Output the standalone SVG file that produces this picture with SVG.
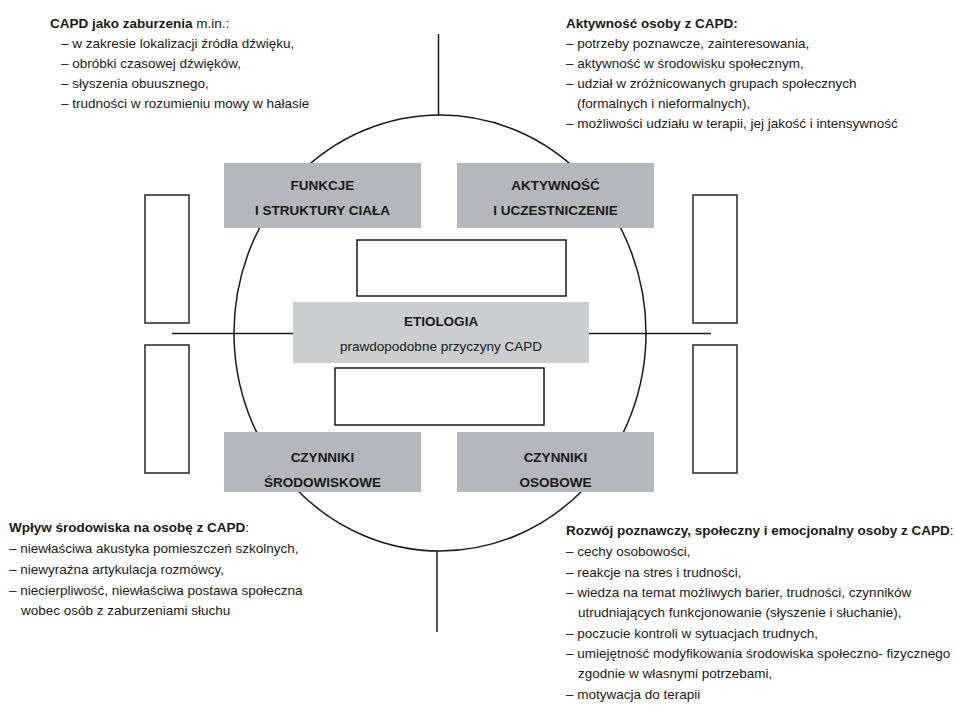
<svg xmlns="http://www.w3.org/2000/svg" width="957" height="707" viewBox="0 0 957 707">
<style>
.t{font-family:"Liberation Sans",Arial,sans-serif;font-size:13.5px;fill:#1a1a1a}
.b{font-weight:bold}
.c{text-anchor:middle}
.g1{fill:#b5b7bc}
.g2{fill:#cbcdd0}
.w{fill:#fff;stroke:#1a1a1a;stroke-width:1.5}
.s{fill:#fff;stroke:#333;stroke-width:1.6}
.ln{fill:none;stroke:#1a1a1a;stroke-width:1.5}
</style>
<rect width="957" height="707" fill="#fff"/>
<g id="connectors">
<ellipse class="ln" cx="440" cy="333" rx="206" ry="218"/>
<line class="ln" x1="438.5" y1="34" x2="438.5" y2="115"/>
<line class="ln" x1="437" y1="551" x2="437" y2="632"/>
<line class="ln" x1="172" y1="333.5" x2="711" y2="333.5"/>
</g>
<g id="funkcje">
<rect class="g1" x="224" y="163" width="197" height="65"/>
<text class="t b c" x="322.5" y="190">FUNKCJE</text>
<text class="t b c" x="322.5" y="215">I STRUKTURY CIAŁA</text>
</g>
<g id="aktywnosc">
<rect class="g1" x="457" y="163" width="197" height="65"/>
<text class="t b c" x="555.5" y="190">AKTYWNOŚĆ</text>
<text class="t b c" x="555.5" y="215">I UCZESTNICZENIE</text>
</g>
<g id="box-top">
<rect class="w" x="357" y="240" width="209" height="56"/>
</g>
<g id="etiologia">
<rect class="g2" x="293" y="302" width="296" height="61"/>
<text class="t b c" x="441" y="326">ETIOLOGIA</text>
<text class="t c" x="441" y="351">prawdopodobne przyczyny CAPD</text>
</g>
<g id="box-bottom">
<rect class="w" x="335" y="368" width="209" height="57"/>
</g>
<g id="srodowiskowe">
<rect class="g1" x="224" y="432" width="197" height="60"/>
<text class="t b c" x="322.5" y="462">CZYNNIKI</text>
<text class="t b c" x="322.5" y="486.5">ŚRODOWISKOWE</text>
</g>
<g id="osobowe">
<rect class="g1" x="457" y="432" width="197" height="60"/>
<text class="t b c" x="555.5" y="462">CZYNNIKI</text>
<text class="t b c" x="555.5" y="486.5">OSOBOWE</text>
</g>
<g id="side-left-top"><rect class="s" x="145" y="195" width="44" height="128"/></g>
<g id="side-left-bottom"><rect class="s" x="145" y="345" width="44" height="128"/></g>
<g id="side-right-top"><rect class="s" x="693" y="195" width="44" height="128"/></g>
<g id="side-right-bottom"><rect class="s" x="693" y="345" width="44" height="128"/></g>
<g id="text-top-left">
<text class="t" x="50" y="27.5"><tspan class="b">CAPD jako zaburzenia</tspan> m.in.:</text>
<text class="t" x="61" y="47.7">– w zakresie lokalizacji źródła dźwięku,</text>
<text class="t" x="61" y="67.9">– obróbki czasowej dźwięków,</text>
<text class="t" x="61" y="88.1">– słyszenia obuusznego,</text>
<text class="t" x="61" y="108.3">– trudności w rozumieniu mowy w hałasie</text>
</g>
<g id="text-top-right">
<text class="t b" x="566" y="28.3">Aktywność osoby z CAPD:</text>
<text class="t" x="566" y="48.3">– potrzeby poznawcze, zainteresowania,</text>
<text class="t" x="566" y="68.3">– aktywność w środowisku społecznym,</text>
<text class="t" x="566" y="88.3">– udział w zróżnicowanych grupach społecznych</text>
<text class="t" x="577" y="108.3">(formalnych i nieformalnych),</text>
<text class="t" x="566" y="128">– możliwości udziału w terapii, jej jakość i intensywność</text>
</g>
<g id="text-bottom-left">
<text class="t" x="9" y="532"><tspan class="b">Wpływ środowiska na osobę z CAPD</tspan>:</text>
<text class="t" x="9" y="553">– niewłaściwa akustyka pomieszczeń szkolnych,</text>
<text class="t" x="9" y="574">– niewyraźna artykulacja rozmówcy,</text>
<text class="t" x="9" y="594.5">– niecierpliwość, niewłaściwa postawa społeczna</text>
<text class="t" x="21" y="615">wobec osób z zaburzeniami słuchu</text>
</g>
<g id="text-bottom-right">
<text class="t" x="566" y="535"><tspan class="b">Rozwój poznawczy, społeczny i emocjonalny osoby z CAPD</tspan>:</text>
<text class="t" x="566" y="556">– cechy osobowości,</text>
<text class="t" x="566" y="576.5">– reakcje na stres i trudności,</text>
<text class="t" x="566" y="597">– wiedza na temat możliwych barier, trudności, czynników</text>
<text class="t" x="578" y="617">utrudniających funkcjonowanie (słyszenie i słuchanie),</text>
<text class="t" x="566" y="637.5">– poczucie kontroli w sytuacjach trudnych,</text>
<text class="t" x="566" y="658">– umiejętność modyfikowania środowiska społeczno- fizycznego</text>
<text class="t" x="578" y="678">zgodnie w własnymi potrzebami,</text>
<text class="t" x="566" y="698.5">– motywacja do terapii</text>
</g>
</svg>
